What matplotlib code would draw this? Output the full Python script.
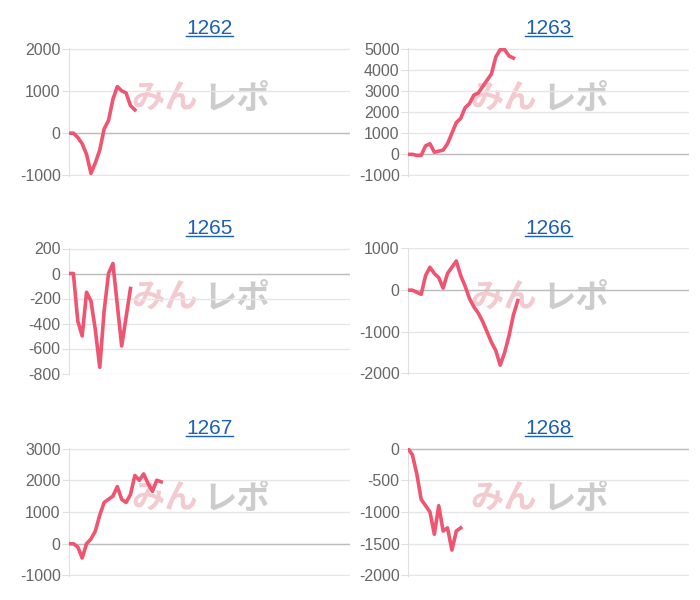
import matplotlib
matplotlib.use("Agg")
import matplotlib.pyplot as plt

titles = ["1262", "1263", "1265", "1266", "1267", "1268"]
s1262 = [0, 0, -100, -250, -500, -950, -700, -400, 100, 300, 800, 1100, 1000, 950, 650, 550]
s1263 = [0, 0, -50, -50, 400, 500, 100, 150, 200, 500, 1000, 1500, 1700, 2200, 2400, 2800, 2900, 3200, 3500, 3800, 4600, 4950, 4950, 4650, 4550]
s1265 = [0, 0, -380, -500, -150, -220, -450, -750, -300, 0, 80, -250, -580, -350, -120]
s1266 = [0, 0, -50, -100, 350, 550, 400, 300, 50, 400, 550, 700, 350, 100, -200, -400, -550, -750, -1000, -1250, -1450, -1800, -1500, -1100, -600, -250]
s1267 = [0, 0, -100, -450, 0, 150, 400, 900, 1300, 1400, 1500, 1800, 1400, 1300, 1550, 2150, 2000, 2200, 1900, 1650, 2000, 1950]
s1268 = [0, -100, -400, -800, -900, -1000, -1350, -900, -1300, -1250, -1600, -1300, -1250]
series = [s1262, s1263, s1265, s1266, s1267, s1268]
ticks = [[-1000, 0, 1000, 2000], list(range(-1000, 5001, 1000)), list(range(-800, 201, 200)),
         [-2000, -1000, 0, 1000], [-1000, 0, 1000, 2000, 3000], list(range(-2000, 1, 500))]

plt.rcParams['font.family'] = ['Liberation Sans', 'DejaVu Sans']
plt.rcParams['axes.unicode_minus'] = False
fig = plt.figure(figsize=(7, 6), dpi=100)
W, H = 700, 600
lefts = [69, 408]
tops = [48, 248, 448]
bottoms = [176, 374, 576]
for i, (t, s, tk) in enumerate(zip(titles, series, ticks)):
    r, c = divmod(i, 2)
    l = lefts[c]; top = tops[r]; bot = bottoms[r]
    ax = fig.add_axes([l / W, 1 - bot / H, 281 / W, (bot - top) / H])
    ax.plot(range(len(s)), s, color='#ef5470', lw=2.6, solid_joinstyle='round', zorder=3)
    ax.set_xlim(0, 64)
    span = tk[-1] - tk[0]
    ax.set_ylim(tk[0] - span * 0.004, tk[-1] + span * 0.004)
    ax.set_yticks(tk)
    ax.set_xticks([])
    ax.grid(axis='y', color='#e6e6e6', lw=1)
    ax.axhline(0, color='#bdbdbd', lw=1)
    for sp in ['top', 'right', 'bottom']:
        ax.spines[sp].set_visible(False)
    ax.spines['left'].set_color('#e0e0e0')
    ax.tick_params(axis='y', length=5, color='#e0e0e0', labelsize=11.5, labelcolor='#666666', pad=1)
    ax.set_axisbelow(True)
    ax.set_title(t, fontsize=15, color='#1a5fb4', pad=10)
    ax.text(0.46, 0.6, 'みん', transform=ax.transAxes, fontsize=24, fontweight='bold', style='italic',
            color='#e8a0a8', alpha=0.55, ha='right', va='center', family=['Noto Sans CJK JP'], zorder=0)
    ax.text(0.48, 0.6, 'レポ', transform=ax.transAxes, fontsize=24, fontweight='bold', style='italic',
            color='#aaaaaa', alpha=0.6, ha='left', va='center', family=['Noto Sans CJK JP'], zorder=0)

fig.canvas.draw()
r = fig.canvas.get_renderer()
for ax in fig.axes:
    bb = ax.title.get_window_extent(r)
    y = bb.y0 + 2
    fig.add_artist(plt.Line2D([bb.x0 / W, bb.x1 / W], [y / H, y / H], color='#1a5fb4', lw=1))
fig.savefig('out.png', dpi=100)
